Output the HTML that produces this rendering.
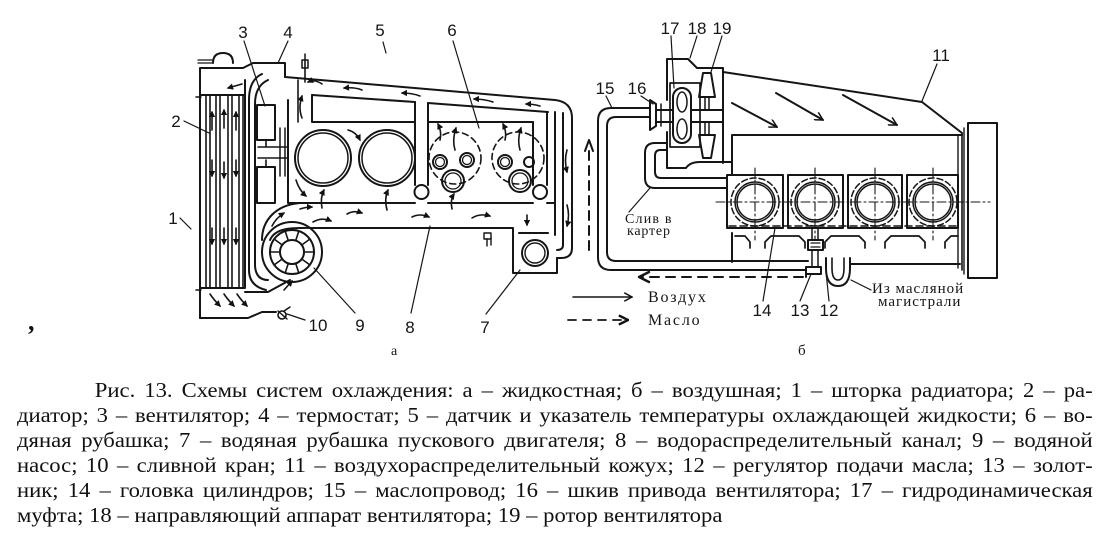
<!DOCTYPE html>
<html><head><meta charset="utf-8">
<style>
html,body{margin:0;padding:0;background:#fff;}
body{width:1103px;height:540px;position:relative;overflow:hidden;}
svg{position:absolute;left:0;top:0;}
.cap{position:absolute;left:17px;top:378px;width:996px;font-family:"Liberation Serif","Noto Serif CJK SC",serif;font-size:21px;line-height:25px;color:#111;transform:scaleX(1.08);transform-origin:0 0;}
.cap div{height:25px;overflow:hidden;text-align:justify;text-align-last:justify;white-space:normal;}
.cap div.last{text-align:left;text-align-last:left;}
</style></head><body>
<svg width="1103" height="370" viewBox="0 0 1103 370" xmlns="http://www.w3.org/2000/svg">
<defs>
<marker id="ah" viewBox="0 0 10 10" refX="8" refY="5" markerWidth="4" markerHeight="4" orient="auto"><path d="M0,0 L10,5 L0,10 z" fill="#111"/></marker>
<marker id="oa" viewBox="0 0 12 12" refX="11" refY="6" markerWidth="9" markerHeight="9" markerUnits="userSpaceOnUse" orient="auto"><path d="M0,0 L11,6 L0,12" fill="none" stroke="#111" stroke-width="2"/></marker>
<marker id="ob" viewBox="0 0 12 12" refX="11" refY="6" markerWidth="11" markerHeight="11" markerUnits="userSpaceOnUse" orient="auto"><path d="M1,1 L11,6 L1,11" fill="none" stroke="#111" stroke-width="2.6"/></marker>
</defs>
<g fill="none" stroke="#151515" stroke-width="2" stroke-linejoin="round" stroke-linecap="round">
<!-- ============ LEFT (a) ============ -->
<path d="M200,318 V68 H243 L253,63 H285 V77"/>
<path d="M213,63 Q213,53 223,53 Q233,53 233,63"/>
<path d="M198,60 H212 M198,63 H212" stroke-width="1.3"/>
<path d="M200,95 H245 M200,288 H245 M245,80 V288"/>
<path d="M200,318 H248 L262,312 H276"/>
<path d="M196,97 H201 M196,290 H201" stroke-width="1.5"/>
<g stroke-width="1.6">
<path d="M206,95 V288 M210,95 V288 M216,95 V288 M220,95 V288 M228,95 V288 M232,95 V288 M239,95 V288 M243,95 V288"/>
</g>
<circle cx="282" cy="315" r="4" stroke-width="1.6"/>
<path d="M278,311 L287,319 M284,311 L290,307" stroke-width="1.5"/>
<path d="M262,74 Q249,80 249,100 V270 Q249,286 266,290"/>
<path d="M268,80 Q255,86 255,104 V266 Q256,280 268,280"/>
<path d="M245,292 H268 L290,280"/>
<rect x="257" y="105" width="18" height="35"/>
<rect x="257" y="167" width="18" height="36"/>
<path d="M266,140 V147 M266,160 V167 M258,147 H288 M258,158 H288" stroke-width="1.6"/>
<path d="M280,128 V176 M285,128 V176" stroke-width="1.5"/>
<path d="M285,77 L555,100 Q572,102 572,118 V248 Q572,258 561,258 H557"/>
<path d="M288,100 V203 H415 M428,203 H533 M547,203 H555"/>
<path d="M312,95 L415,102 M428,103 L548,112"/>
<path d="M312,95 V122 H415 M428,122 H533"/>
<path d="M298,80 V122" stroke-width="1.6"/>
<path d="M415,102 V185 M428,103 V185"/>
<circle cx="421.5" cy="192" r="7"/>
<path d="M533,122 V185 M547,112 V185"/>
<circle cx="540" cy="192" r="7"/>
<path d="M555,112 V235 M563,113 V245 Q563,250 557,250"/>
<path d="M320,228 H513 V273 H557 V258"/>
<path d="M519,233 H548"/>
<circle cx="535" cy="253" r="13"/>
<circle cx="535" cy="253" r="10" stroke-width="1.4"/>
<path d="M300,203 C276,205 262,220 262,240"/>
<path d="M270,240 C276,226 296,228 320,228"/>
<circle cx="292" cy="252" r="30"/>
<circle cx="292" cy="252" r="22"/>
<circle cx="292" cy="252" r="12"/>
<g stroke-width="1.6">
<path d="M304,252 H314 M301.7,259 L309.8,264.9 M295.7,263.4 L298.8,272.9 M288.3,263.4 L285.2,272.9 M282.3,259 L274.2,264.9 M280,252 H270 M282.3,245 L274.2,239.1 M288.3,240.6 L285.2,231.1 M295.7,240.6 L298.8,231.1 M301.7,245 L309.8,239.1"/>
</g>
<circle cx="323" cy="158" r="28"/>
<circle cx="323" cy="158" r="25" stroke-width="1.5"/>
<circle cx="387" cy="158" r="28"/>
<circle cx="387" cy="158" r="25" stroke-width="1.5"/>
<circle cx="455" cy="158" r="26" stroke-dasharray="6,4" stroke-width="1.6"/>
<circle cx="518" cy="158" r="26" stroke-dasharray="6,4" stroke-width="1.6"/>
<circle cx="440" cy="162" r="7"/><circle cx="440" cy="162" r="4.5" stroke-width="1.3"/>
<circle cx="467" cy="160" r="7"/><circle cx="467" cy="160" r="4.5" stroke-width="1.3"/>
<circle cx="453" cy="181" r="11"/><circle cx="453" cy="181" r="8" stroke-width="1.3"/>
<circle cx="505" cy="162" r="7"/><circle cx="505" cy="162" r="4.5" stroke-width="1.3"/>
<circle cx="529" cy="162" r="5"/>
<circle cx="520" cy="181" r="11"/><circle cx="520" cy="181" r="8" stroke-width="1.3"/>
<path d="M305,60 V82" stroke-width="1.6"/>
<rect x="302" y="60" width="6" height="8" stroke-width="1.5"/>
<path d="M305,54 V60" stroke-width="1.5"/>
<rect x="484" y="233" width="7" height="6" stroke-width="1.4"/>
<path d="M487,239 V246 M491,238 V245" stroke-width="1.4"/>
<g stroke-width="1.6" marker-end="url(#ah)">
<path d="M212,130 V112"/><path d="M224,128 V110"/><path d="M236,130 V112"/>
<path d="M212,160 V176"/><path d="M224,162 V178"/><path d="M236,160 V176"/>
<path d="M212,228 V244"/><path d="M224,228 V244"/><path d="M236,228 V244"/>
<path d="M210,294 Q214,300 220,306"/><path d="M224,294 Q228,300 234,306"/><path d="M237,294 Q241,300 247,306"/>
<path d="M242,84 L228,88"/>
<path d="M302,118 Q298,108 302,96"/>
<path d="M322,84 Q315,79 308,82"/>
<path d="M362,90 Q355,87 344,88"/>
<path d="M420,96 Q412,93 402,93"/>
<path d="M493,102 Q484,99 474,99"/>
<path d="M540,106 Q533,104 526,104"/>
<path d="M567,150 Q564,160 567,172"/>
<path d="M567,205 Q570,215 567,226"/>
<path d="M313,222 Q322,217 331,221"/>
<path d="M347,214 Q354,210 362,213"/>
<path d="M412,217 Q420,213 429,217"/>
<path d="M472,218 Q480,213 490,216"/>
<path d="M322,208 Q320,198 324,190"/>
<path d="M387,210 Q384,199 388,190"/>
<path d="M452,209 Q450,200 454,194"/>
<path d="M527,215 L527,225"/>
<path d="M272,226 Q276,218 284,213"/>
<path d="M300,209 Q306,207 312,207"/>
<path d="M284,290 L292,281"/>
<path d="M348,130 Q356,132 360,140"/>
<path d="M440,140 Q442,132 438,124"/>
<path d="M455,150 Q452,140 456,128"/>
<path d="M505,140 Q507,132 503,124"/>
<path d="M520,150 Q517,140 521,128"/>
<path d="M296,180 Q299,190 306,196"/>
</g>
<g stroke-width="1.2">
<path d="M180,218 L191,229"/>
<path d="M184,121 L209,133"/>
<path d="M244,41 L265,106"/>
<path d="M288,41 L278,63"/>
<path d="M383,42 L386,53"/>
<path d="M453,41 L479,128"/>
<path d="M355,313 L314,268"/>
<path d="M305,320 L287,314"/>
<path d="M411,313 L430,226"/>
<path d="M486,314 L520,270"/>
</g>

<!-- ============ RIGHT (б) ============ -->
<path d="M650,108 H611 Q598,108 598,121 V257 Q598,270 611,270 H806 V277"/>
<path d="M650,117 H616 Q607,117 607,126 V252 Q607,261 616,261 H808"/>
<path d="M667,59 H688 L697,68 H723 V163 M667,59 V100 M667,132 V168 H686 Q690,162 700,162 H732"/>
<rect x="670" y="83" width="30" height="64" stroke-width="1.7"/>
<path d="M656,110 H723 M656,122 H723"/>
<rect x="673" y="88" width="18" height="55" rx="9" fill="#fff"/>
<ellipse cx="682" cy="102" rx="5" ry="10" stroke-width="1.5"/>
<ellipse cx="682" cy="129" rx="5" ry="10" stroke-width="1.5"/>
<path d="M650,100 L656,104 V126 L650,130 Z"/>
<path d="M661,104 V126" stroke-width="1.5"/>
<polygon points="703,73 711,73 715,97 699,97"/>
<polygon points="699,135 715,135 711,158 703,158"/>
<path d="M705,97 V110 M709,97 V110 M705,122 V135 M709,122 V135" stroke-width="1.5"/>
<path d="M667,143 H655 Q645,143 645,153 V178 Q645,188 655,188 H727"/>
<path d="M667,150 H660 Q655,150 655,156 V172 Q655,178 661,178 H727"/>
<path d="M723,72 L922,102 L962,133"/>
<path d="M732,175 V135 H962"/>
<path d="M962,133 V270" stroke-width="1.6"/>
<path d="M958,135 V268" stroke-width="1.4"/>
<rect x="968" y="123" width="29" height="155"/>
<path d="M964,128 V274" stroke-width="1.4"/>
<rect x="727" y="175" width="56" height="53"/>
<rect x="788" y="175" width="55" height="53"/>
<rect x="848" y="175" width="54" height="53"/>
<rect x="907" y="175" width="51" height="53"/>
<g stroke-width="1.5">
<circle cx="755" cy="202" r="24" stroke-dasharray="6,3"/>
<circle cx="755" cy="202" r="20"/><circle cx="755" cy="202" r="18"/>
<circle cx="815" cy="202" r="24" stroke-dasharray="6,3"/>
<circle cx="815" cy="202" r="20"/><circle cx="815" cy="202" r="18"/>
<circle cx="875" cy="202" r="24" stroke-dasharray="6,3"/>
<circle cx="875" cy="202" r="20"/><circle cx="875" cy="202" r="18"/>
<circle cx="933" cy="202" r="24" stroke-dasharray="6,3"/>
<circle cx="933" cy="202" r="20"/><circle cx="933" cy="202" r="18"/>
</g>
<g stroke-width="1.1" stroke-dasharray="9,3,2,3">
<path d="M716,202 H990"/>
<path d="M755,168 V240 M815,168 V240 M875,168 V240 M933,168 V240"/>
</g>
<path d="M729,226 H958" stroke-width="1.6" stroke-dasharray="7,4"/>
<path d="M732,233 V262"/>
<g stroke-width="1.7">
<path d="M735,236 H745 L750,242 V248"/>
<path d="M765,248 V242 L771,236 H799 L805,242 V248"/>
<path d="M825,248 V242 L831,236 H859 L865,242 V248"/>
<path d="M885,248 V242 L891,236 H919 L925,242 V248"/>
<path d="M945,248 V242 L951,236 H958"/>
</g>
<path d="M850,264 H960"/>
<path d="M812,228 V240 M818,228 V240" stroke-width="1.5"/>
<rect x="808" y="240" width="15" height="10" fill="#fff"/>
<path d="M811,243 H820 M811,247 H820" stroke-width="1.2"/>
<rect x="812" y="250" width="6" height="17" stroke-width="1.5"/>
<rect x="806" y="267" width="15" height="7" fill="#fff"/>
<path d="M826,258 V268 Q826,286 838,286 Q850,286 850,268 V258"/>
<path d="M832,258 V268 Q832,280 838,280 Q844,280 844,268 V258" stroke-width="1.6"/>
<path d="M803,277 H642" stroke-dasharray="9,7"/>
<path d="M649,272 L639,277 L649,282" stroke-width="2.4"/>
<path d="M589,250 V146" stroke-dasharray="9,6"/>
<path d="M585,151 L589,140 L593,151" stroke-width="2"/>
<path d="M732,103 L777,127" marker-end="url(#oa)"/>
<path d="M776,93 L823,120" marker-end="url(#oa)"/>
<path d="M843,95 L897,125" marker-end="url(#oa)"/>
<path d="M573,297 H632" stroke-width="1.6" marker-end="url(#oa)"/>
<path d="M568,320 H628" stroke-width="1.8" stroke-dasharray="8,7" marker-end="url(#ob)"/>
<g stroke-width="1.2">
<path d="M606,96 L612,108"/>
<path d="M641,96 L653,104"/>
<path d="M671,36 L674,88"/>
<path d="M697,36 L690,58"/>
<path d="M722,36 L711,72"/>
<path d="M937,64 L922,101"/>
<path d="M629,212 L650,188"/>
<path d="M763,301 L775,228"/>
<path d="M800,301 L811,274"/>
<path d="M829,301 L826,272"/>
<path d="M871,290 L851,280"/>
</g>
</g>
<text x="28" y="330" font-family="Liberation Serif,serif" font-size="26" font-weight="bold" fill="#111">,</text>
<g font-family="Liberation Sans, sans-serif" font-size="17" fill="#151515" text-anchor="middle">
<text x="173" y="224">1</text>
<text x="176" y="127">2</text>
<text x="243" y="38">3</text>
<text x="288" y="38">4</text>
<text x="380" y="36">5</text>
<text x="452" y="36">6</text>
<text x="485" y="333">7</text>
<text x="410" y="333">8</text>
<text x="360" y="331">9</text>
<text x="318" y="331">10</text>
<text x="941" y="61">11</text>
<text x="829" y="316">12</text>
<text x="800" y="316">13</text>
<text x="762" y="316">14</text>
<text x="605" y="94">15</text>
<text x="637" y="94">16</text>
<text x="670" y="34">17</text>
<text x="697" y="34">18</text>
<text x="722" y="34">19</text>
</g>
<g font-family="Liberation Serif, serif" fill="#151515">
<text x="391" y="355" font-size="14">а</text>
<text x="798" y="355" font-size="15">б</text>
<text x="625" y="223" font-size="14" letter-spacing="1.2">Слив в</text>
<text x="627" y="235" font-size="14" letter-spacing="0.8">картер</text>
<text x="648" y="302" font-size="16" letter-spacing="1.8">Воздух</text>
<text x="648" y="325" font-size="16" letter-spacing="1.8">Масло</text>
<text x="872" y="293" font-size="15" letter-spacing="1">Из масляной</text>
<text x="878" y="306" font-size="15" letter-spacing="1">магистрали</text>
</g>
</svg>
<div class="cap">
<div style="text-indent:72px">Рис. 13. Схемы систем охлаждения: а – жидкостная; б – воздушная; 1 – шторка радиатора; 2 – ра-</div>
<div>диатор; 3 – вентилятор; 4 – термостат; 5 – датчик и указатель температуры охлаждающей жидкости; 6 – во-</div>
<div>дяная рубашка; 7 – водяная рубашка пускового двигателя; 8 – водораспределительный канал; 9 – водяной</div>
<div>насос; 10 – сливной кран; 11 – воздухораспределительный кожух; 12 – регулятор подачи масла; 13 – золот-</div>
<div>ник; 14 – головка цилиндров; 15 – маслопровод; 16 – шкив привода вентилятора; 17 – гидродинамическая</div>
<div class="last">муфта; 18 – направляющий аппарат вентилятора; 19 – ротор вентилятора</div>
</div>
</body></html>
